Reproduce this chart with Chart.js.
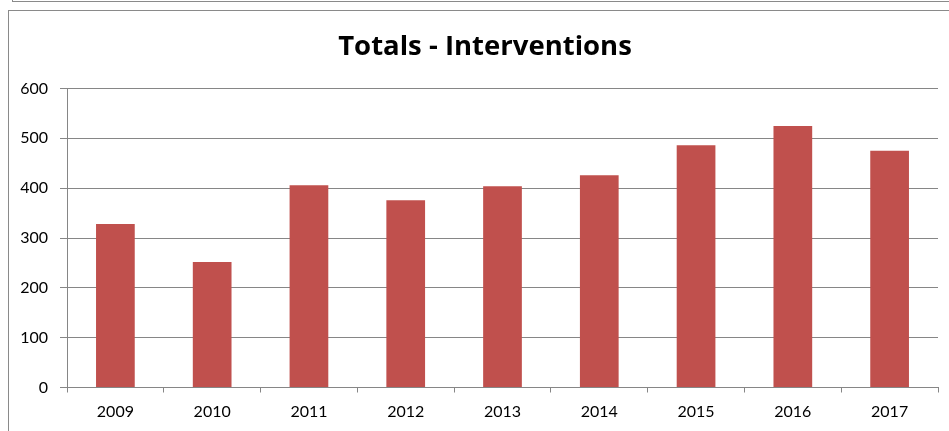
<!DOCTYPE html>
<html>
<head>
<meta charset="utf-8">
<script src="https://cdn.jsdelivr.net/npm/chart.js@4/dist/chart.umd.min.js"></script>
<style>
  html, body { margin: 0; padding: 0; background: #fff; }
  #wrap { position: relative; width: 949px; height: 431px; overflow: hidden; }
  #chart { position: absolute; left: 0; top: 0; }
  .ln { position: absolute; background: #8a8a8a; }
</style>
</head>
<body>
<div id="wrap">
  <div class="ln" style="left:12px; top:1px; width:937px; height:1px;"></div>
  <div class="ln" style="left:12px; top:0px; width:1px; height:2px;"></div>
  <div class="ln" style="left:8px; top:10px; width:941px; height:1px;"></div>
  <div class="ln" style="left:8px; top:10px; width:1px; height:421px;"></div>
  <canvas id="chart" width="949" height="431"></canvas>
</div>
<script>
const titleText = "Totals - Interventions";
const years = ["2009", "2010", "2011", "2012", "2013", "2014", "2015", "2016", "2017"];
const interventions = [328, 252, 406, 376, 404, 426, 486, 525, 475];
const yTicks = [0, 100, 200, 300, 400, 500, 600];

const gridColor = "#868686";
const fontFamily = "Lato, 'Open Sans', 'Liberation Sans', sans-serif";
const titleFamily = "'Open Sans', Lato, sans-serif";

const shiftTitle = {
  id: "shiftTitle",
  afterLayout(chart) {
    const t = chart.titleBlock;
    if (t) { t.left += 16; t.right += 16; }
  }
};

new Chart(document.getElementById("chart"), {
  type: "bar",
  data: {
    labels: years,
    datasets: [{
      data: interventions,
      backgroundColor: "#C0504D",
      borderWidth: 0,
      categoryPercentage: 1.0,
      barPercentage: 0.4
    }]
  },
  plugins: [shiftTitle],
  options: {
    responsive: false,
    animation: false,
    devicePixelRatio: 1,
    layout: { padding: { left: 0, right: 11, top: 0, bottom: 0 } },
    plugins: {
      legend: { display: false },
      tooltip: { enabled: false },
      title: {
        display: true,
        text: titleText,
        color: "#000",
        font: { family: titleFamily, size: 27.5, weight: "bold", lineHeight: 1.2 },
        padding: { top: 30.5, bottom: 25 }
      }
    },
    scales: {
      x: {
        offset: true,
        grid: {
          display: true,
          offset: true,
          drawOnChartArea: false,
          drawTicks: true,
          tickLength: 5,
          color: gridColor
        },
        border: { display: true, color: gridColor, width: 1 },
        ticks: {
          color: "#000",
          font: { family: fontFamily, size: 16 },
          padding: 10,
          maxRotation: 0
        },
        afterFit: (s) => { s.height = 43.5; }
      },
      y: {
        min: 0,
        max: 600,
        afterBuildTicks: (s) => { s.ticks = yTicks.map(v => ({ value: v })); },
        grid: {
          color: gridColor,
          drawTicks: true,
          tickLength: 7
        },
        border: { display: true, color: gridColor, width: 1 },
        ticks: {
          color: "#000",
          font: { family: fontFamily, size: 16 },
          padding: 12
        },
        afterFit: (s) => { s.width = 67; }
      }
    }
  }
});
</script>
</body>
</html>
